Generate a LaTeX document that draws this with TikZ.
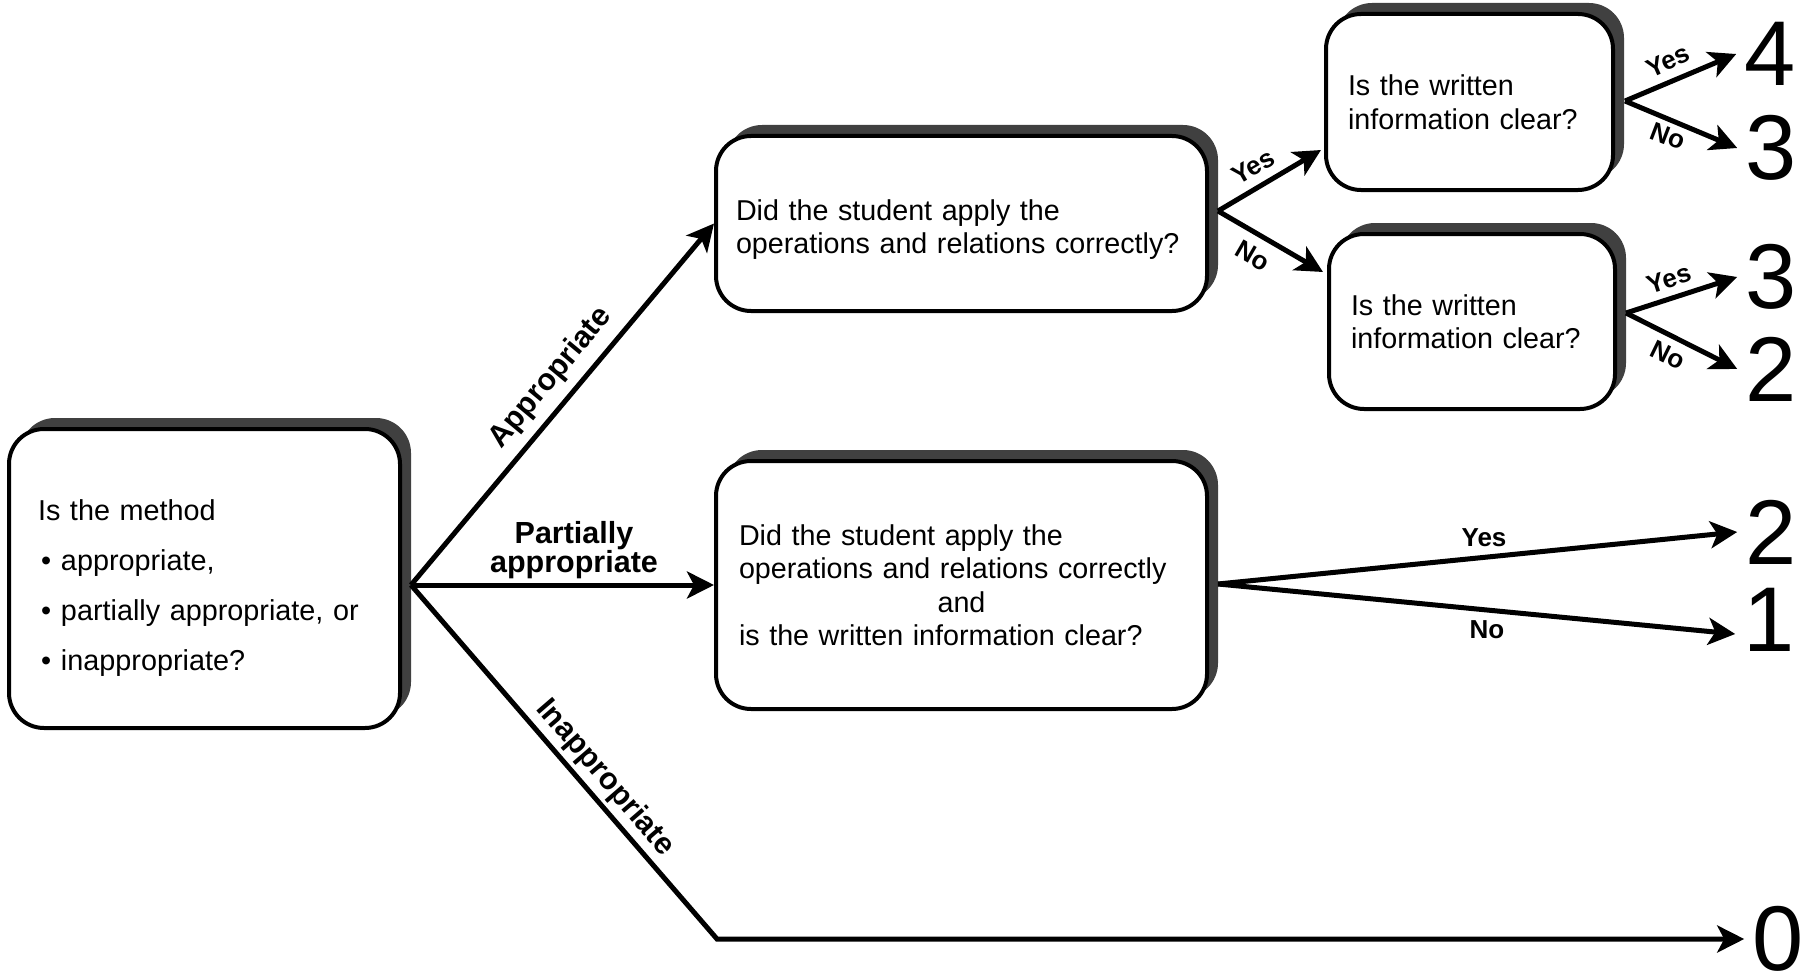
\documentclass[tikz,border=0pt]{standalone}
\usepackage{fontspec}
\setmainfont{Liberation Sans}
\usetikzlibrary{arrows.meta,shadows,calc}
\definecolor{shadowgray}{HTML}{404040}
\begin{document}
\begin{tikzpicture}[x=1pt,y=-1pt,
  box/.style={draw=black, line width=4pt, fill=white, rounded corners=35pt,
    align=left, inner ysep=0pt,
    general shadow={fill=shadowgray, shadow xshift=11pt, shadow yshift=11pt},
    font=\fontsize{28.7}{33.5}\selectfont},
  arr/.style={line width=5pt, -{Stealth[length=27pt,width=27pt,inset=7pt]}},
  lbl/.style={font=\bfseries\fontsize{26}{26}\selectfont, inner sep=0pt},
  biglbl/.style={font=\bfseries\fontsize{30.5}{28}\selectfont, inner sep=0pt, align=center},
  score/.style={font=\fontsize{92}{92}\selectfont, inner sep=8pt},
]
\useasboundingbox (0,0) rectangle (1807,971);

% boxes
\node[box, text width=333pt, inner xsep=29pt, minimum height=299pt,
      font=\fontsize{28.8}{50}\selectfont] (L) at (204.5,578.5)
  {\rule{0pt}{40pt}Is the method\\
   \hspace*{3pt}\makebox[20pt][l]{•}appropriate,\\
   \hspace*{3pt}\makebox[20pt][l]{•}partially appropriate, or\\
   \hspace*{3pt}\makebox[20pt][l]{•}inappropriate?};
\node[box, text width=451pt, inner xsep=20pt, minimum height=175pt] (M1) at (961.5,223.5)
  {\rule{0pt}{33pt}Did the student apply the\\operations and relations correctly?};
\node[box, text width=243pt, inner xsep=22pt, minimum height=176pt] (R1) at (1469.5,102)
  {Is the written\\information clear?};
\node[box, text width=242pt, inner xsep=22pt, minimum height=175pt] (R2) at (1472,321.5)
  {Is the written\\information clear?};
\node[box, text width=445pt, inner xsep=23pt, minimum height=248pt] (M2) at (961.5,585)
  {Did the student apply the\\operations and relations correctly\\
   \hspace*{\fill}and\hspace*{\fill}\null\\is the written information clear?};

% scores
\node[score] (s4)  at (1770,54)  {4};
\node[score] (s3a) at (1771,148) {3};
\node[score] (s3b) at (1771,277) {3};
\node[score] (s2a) at (1771,369) {2};
\node[score] (s2b) at (1771,532) {2};
\node[score] (s1)  at (1769,620) {1};
\node[score] (s0)  at (1778,939) {0};

% branch points
\coordinate (Lo)  at (411,585);
\coordinate (M1o) at (1218,211);
\coordinate (R1o) at (1625,101);
\coordinate (R2o) at (1626,313);
\coordinate (M2o) at (1218,584);
\coordinate (bend) at (717,939);
\coordinate (r1in) at ($(R1.west)+(-3,48)$);
\coordinate (r2in) at ($(R2.west)+(-4,-49.5)$);
\coordinate (s1in) at ($(s1.west)+(0,14)$);

% connectors
\draw[arr] (Lo) -- (M1.west);
\draw[arr] (Lo) -- (M2.west);
\draw[arr] (Lo) -- (bend) -- (s0.west);
\draw[arr] (M1o) -- (r1in);
\draw[arr] (M1o) -- (r2in);
\draw[arr] (R1o) -- (s4.west);
\draw[arr] (R1o) -- (s3a.west);
\draw[arr] (R2o) -- (s3b.west);
\draw[arr] (R2o) -- (s2a.west);
\draw[arr] (M2o) -- (s2b.west);
\draw[arr] (M2o) -- (s1in);

% labels
\node[biglbl, rotate=50.3] (lapp) at (551,378) {Appropriate};
\node[biglbl] (lpart) at (574,550) {Partially\\appropriate};
\node[biglbl, rotate=-49.2] (linapp) at (605,778) {Inappropriate};
\node[lbl, rotate=30] (y1) at (1253,167) {Yes};
\node[lbl, rotate=-30] (n1) at (1253,256) {No};
\node[lbl, rotate=24] (y2) at (1668,61) {Yes};
\node[lbl, rotate=-21] (n2) at (1668,136) {No};
\node[lbl, rotate=18] (y3) at (1669,279) {Yes};
\node[lbl, rotate=-26] (n3) at (1668,355) {No};
\node[lbl] (y4) at (1484,538) {Yes};
\node[lbl] (n4) at (1487,630) {No};
\end{tikzpicture}
\end{document}
